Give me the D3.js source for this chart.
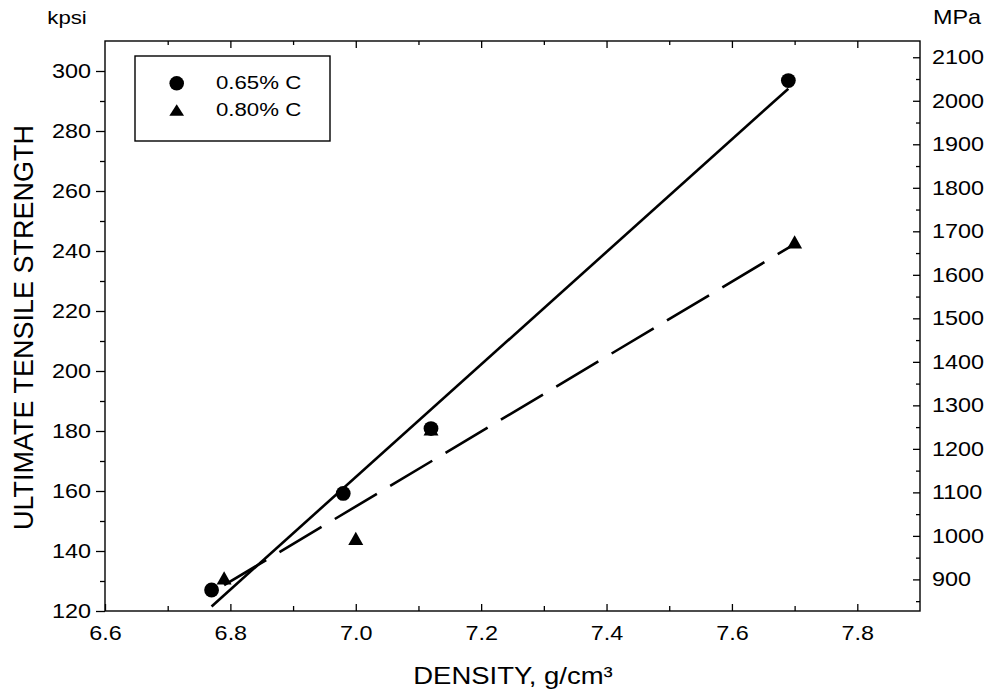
<!DOCTYPE html>
<html>
<head>
<meta charset="utf-8">
<script src="https://cdn.jsdelivr.net/npm/d3@7"></script>
<style>
  html, body { margin: 0; padding: 0; background: #fff; }
  svg { display: block; }
  text { font-family: "Liberation Sans", Arial, Helvetica, sans-serif; fill: #000; }
</style>
</head>
<body>
<svg id="chart" width="987" height="698"></svg>
<script>
// Tensile strength vs. density for two carbon contents
const density065 = [6.77, 6.98, 7.12, 7.69];
const strength065 = [127, 159.2, 180.8, 296.8];
const density080 = [6.79, 7.00, 7.12, 7.70];
const strength080 = [130.3, 143.5, 180.0, 242.3];

// Fitted trend lines (end points, density / kpsi)
const fit065Density = [6.77, 7.69];
const fit065Strength = [121.5, 294.1];
const fit080Density = [6.79, 7.70];
const fit080Strength = [128.6, 242.3];

const seriesNames = ["0.65% C", "0.80% C"];

// Axis ticks
const densityTicks = [6.6, 6.8, 7.0, 7.2, 7.4, 7.6, 7.8];
const densityMinor = [6.7, 6.9, 7.1, 7.3, 7.5, 7.7];
const kpsiTicks = [120, 140, 160, 180, 200, 220, 240, 260, 280, 300];
const kpsiMinor = [130, 150, 170, 190, 210, 230, 250, 270, 290];
const mpaTicks = [900, 1000, 1100, 1200, 1300, 1400, 1500, 1600, 1700, 1800, 1900, 2000, 2100];
const mpaMinor = [850, 950, 1050, 1150, 1250, 1350, 1450, 1550, 1650, 1750, 1850, 1950, 2050];

const MPA_PER_KPSI = 6.894757;
const densityDomain = [6.6, 7.9];
const kpsiDomain = [120, 310];

const svg = d3.select("#chart");
const L = 105, R = 920, T = 41, B = 611;
const SX = 1.17; // horizontal widening of the typeface

const x = d3.scaleLinear().domain(densityDomain).range([L, R]);
const y = d3.scaleLinear().domain(kpsiDomain).range([B, T]);
const yMpa = d3.scaleLinear()
  .domain(kpsiDomain.map(v => v * MPA_PER_KPSI))
  .range([B, T]);

function styleAxis(g) {
  g.select(".domain").remove();
  g.selectAll(".tick line").attr("stroke", "#000").attr("stroke-width", 1.3);
}

// bottom axis: inward ticks with labels
const gBottom = svg.append("g").attr("transform", `translate(0,${B})`)
  .call(d3.axisBottom(x).tickValues(densityTicks).tickSizeInner(-7).tickSizeOuter(0)
    .tickPadding(15).tickFormat(d3.format(".1f")))
  .call(styleAxis);
gBottom.selectAll("text").attr("font-size", 20).attr("transform", `scale(${SX},1)`);
svg.append("g").attr("transform", `translate(0,${B})`)
  .call(d3.axisBottom(x).tickValues(densityMinor).tickSizeInner(-5).tickSizeOuter(0).tickFormat(""))
  .call(styleAxis);

// top axis: inward ticks only
svg.append("g").attr("transform", `translate(0,${T})`)
  .call(d3.axisTop(x).tickValues(densityTicks.filter(d => d > 6.6)).tickSizeInner(-7).tickSizeOuter(0).tickFormat(""))
  .call(styleAxis);
svg.append("g").attr("transform", `translate(0,${T})`)
  .call(d3.axisTop(x).tickValues(densityMinor).tickSizeInner(-4).tickSizeOuter(0).tickFormat(""))
  .call(styleAxis);

// left axis (kpsi): outward ticks
const gLeft = svg.append("g").attr("transform", `translate(${L},0)`)
  .call(d3.axisLeft(y).tickValues(kpsiTicks).tickSizeInner(9).tickSizeOuter(0).tickPadding(5)
    .tickFormat(d3.format("d")))
  .call(styleAxis);
gLeft.selectAll("text").attr("font-size", 20)
  .attr("x", -14 / SX).attr("transform", `scale(${SX},1)`);
svg.append("g").attr("transform", `translate(${L},0)`)
  .call(d3.axisLeft(y).tickValues(kpsiMinor).tickSizeInner(5).tickSizeOuter(0).tickFormat(""))
  .call(styleAxis);

// right axis (MPa): inward ticks
const gRight = svg.append("g").attr("transform", `translate(${R},0)`)
  .call(d3.axisRight(yMpa).tickValues(mpaTicks).tickSizeInner(-7).tickSizeOuter(0).tickPadding(12)
    .tickFormat(d3.format("d")))
  .call(styleAxis);
gRight.selectAll("text").attr("font-size", 20)
  .attr("x", 12 / SX).attr("transform", `scale(${SX},1)`);
svg.append("g").attr("transform", `translate(${R},0)`)
  .call(d3.axisRight(yMpa).tickValues(mpaMinor).tickSizeInner(-4).tickSizeOuter(0).tickFormat(""))
  .call(styleAxis);

// plot frame
svg.append("rect")
  .attr("x", L).attr("y", T).attr("width", R - L).attr("height", B - T)
  .attr("fill", "none").attr("stroke", "#000").attr("stroke-width", 1.4);

// trend lines
const line = d3.line().x(d => x(d[0])).y(d => y(d[1]));
svg.append("path")
  .datum(d3.zip(fit065Density, fit065Strength))
  .attr("d", line).attr("fill", "none").attr("stroke", "#000").attr("stroke-width", 2.6);
svg.append("path")
  .datum(d3.zip(fit080Density, fit080Strength))
  .attr("d", line).attr("fill", "none").attr("stroke", "#000").attr("stroke-width", 2.6)
  .attr("stroke-dasharray", "49,15.5");

// markers
function trianglePath(w, h) {
  return `M0,${-2 * h / 3}L${w / 2},${h / 3}L${-w / 2},${h / 3}Z`;
}
svg.append("g").selectAll("path")
  .data(d3.zip(density080, strength080))
  .join("path")
  .attr("d", trianglePath(15, 13.3))
  .attr("transform", d => `translate(${x(d[0])},${y(d[1])})`)
  .attr("fill", "#000");
svg.append("g").selectAll("circle")
  .data(d3.zip(density065, strength065))
  .join("circle")
  .attr("cx", d => x(d[0])).attr("cy", d => y(d[1]))
  .attr("r", 7.4).attr("fill", "#000");

// legend
const lg = svg.append("g");
lg.append("rect").attr("x", 135).attr("y", 56).attr("width", 195).attr("height", 85)
  .attr("fill", "#fff").attr("stroke", "#000").attr("stroke-width", 1.4);
lg.append("circle").attr("cx", 176.7).attr("cy", 83.3).attr("r", 7.3).attr("fill", "#000");
lg.append("path").attr("d", trianglePath(14.7, 11.5))
  .attr("transform", "translate(176.7,112)").attr("fill", "#000");
lg.append("text").attr("transform", `translate(216,89.3) scale(${SX},1)`)
  .attr("font-size", 19).text(seriesNames[0]);
lg.append("text").attr("transform", `translate(216,116) scale(${SX},1)`)
  .attr("font-size", 19).text(seriesNames[1]);

// unit labels
svg.append("text").attr("transform", `translate(47.3,23.7) scale(${SX},1)`)
  .attr("font-size", 19).text("kpsi");
svg.append("text").attr("transform", `translate(933,24.3) scale(${SX},1)`)
  .attr("font-size", 20).text("MPa");

// axis titles
svg.append("text").attr("transform", `translate(513,684.3) scale(${SX},1)`)
  .attr("text-anchor", "middle").attr("font-size", 23.5).text("DENSITY, g/cm³");
svg.append("text").attr("transform", "translate(33.3,327.5) rotate(-90)")
  .attr("text-anchor", "middle").attr("font-size", 27).text("ULTIMATE TENSILE STRENGTH");
</script>
</body>
</html>
